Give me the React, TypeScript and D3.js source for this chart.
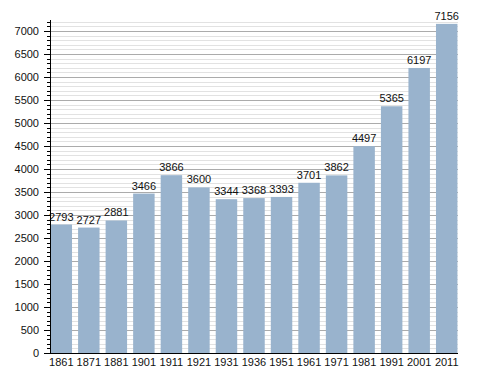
import React, { useEffect, useRef } from 'react';
import * as d3 from 'd3';

const years = ['1861', '1871', '1881', '1901', '1911', '1921', '1931', '1936', '1951', '1961', '1971', '1981', '1991', '2001', '2011'];
const population = [2793, 2727, 2881, 3466, 3866, 3600, 3344, 3368, 3393, 3701, 3862, 4497, 5365, 6197, 7156];
const majorTicks = d3.range(0, 7001, 500);
const minorTicks = d3.range(0, 7201, 100);

const App: React.FC = () => {
  const svgRef = useRef<SVGSVGElement>(null);

  useEffect(() => {
    if (!svgRef.current) return;
    const width = 488;
    const height = 373;
    const margin = { top: 20, right: 30, bottom: 20, left: 50 };
    const innerW = width - margin.left - margin.right;
    const innerH = height - margin.top - margin.bottom;

    const svg = d3.select(svgRef.current);
    svg.selectAll('*').remove();

    const g = svg.append('g').attr('transform', `translate(${margin.left},${margin.top})`);

    const x = d3.scaleBand<string>().domain(years).range([0, innerW]).paddingInner(0.22).paddingOuter(0.02);
    const y = d3.scaleLinear().domain([0, 7240]).range([innerH, 0]);

    // minor grid
    g.selectAll('line.minor')
      .data(minorTicks.filter(v => v % 500 !== 0))
      .enter().append('line')
      .attr('x1', 0).attr('x2', innerW)
      .attr('y1', d => Math.round(y(d)) + 0.5).attr('y2', d => Math.round(y(d)) + 0.5)
      .attr('stroke', '#e2e2e2').attr('stroke-width', 1);

    // major grid
    g.selectAll('line.major')
      .data(majorTicks.filter(v => v > 0))
      .enter().append('line')
      .attr('x1', 0).attr('x2', innerW)
      .attr('y1', d => Math.round(y(d)) + 0.5).attr('y2', d => Math.round(y(d)) + 0.5)
      .attr('stroke', '#ababab').attr('stroke-width', 1);

    // bars
    g.selectAll('rect.bar')
      .data(population)
      .enter().append('rect')
      .attr('x', (d, i) => x(years[i]) as number)
      .attr('y', d => y(d))
      .attr('width', x.bandwidth())
      .attr('height', d => innerH - y(d))
      .attr('fill', '#99b3cd');

    // value labels
    g.selectAll('text.val')
      .data(population)
      .enter().append('text')
      .attr('x', (d, i) => (x(years[i]) as number) + x.bandwidth() / 2)
      .attr('y', d => y(d) - 4)
      .attr('text-anchor', 'middle')
      .attr('font-family', 'Liberation Sans, Arial, sans-serif')
      .attr('font-size', 11)
      .attr('fill', '#111')
      .text(d => d);

    // left axis
    g.append('line')
      .attr('x1', 0.5).attr('x2', 0.5).attr('y1', 0).attr('y2', innerH)
      .attr('stroke', '#000');
    g.selectAll('line.mtick')
      .data(minorTicks)
      .enter().append('line')
      .attr('x1', -3).attr('x2', 0)
      .attr('y1', d => Math.round(y(d)) + 0.5).attr('y2', d => Math.round(y(d)) + 0.5)
      .attr('stroke', '#000');
    g.selectAll('line.Mtick')
      .data(majorTicks)
      .enter().append('line')
      .attr('x1', -6).attr('x2', 0)
      .attr('y1', d => Math.round(y(d)) + 0.5).attr('y2', d => Math.round(y(d)) + 0.5)
      .attr('stroke', '#000');
    g.selectAll('text.ylab')
      .data(majorTicks)
      .enter().append('text')
      .attr('x', -11)
      .attr('y', d => y(d) + 4)
      .attr('text-anchor', 'end')
      .attr('font-family', 'Liberation Sans, Arial, sans-serif')
      .attr('font-size', 11)
      .attr('fill', '#111')
      .text(d => d);

    // bottom axis
    g.append('line')
      .attr('x1', 0).attr('x2', innerW).attr('y1', innerH + 0.5).attr('y2', innerH + 0.5)
      .attr('stroke', '#000');
    g.selectAll('text.xlab')
      .data(years)
      .enter().append('text')
      .attr('x', d => (x(d) as number) + x.bandwidth() / 2)
      .attr('y', innerH + 13)
      .attr('text-anchor', 'middle')
      .attr('font-family', 'Liberation Sans, Arial, sans-serif')
      .attr('font-size', 11)
      .attr('fill', '#111')
      .text(d => d);
  }, []);

  return (
    <svg ref={svgRef} width={488} height={373}
      style={{ position: 'absolute', left: 0, top: 0, background: '#fff' }} />
  );
};

export default App;
